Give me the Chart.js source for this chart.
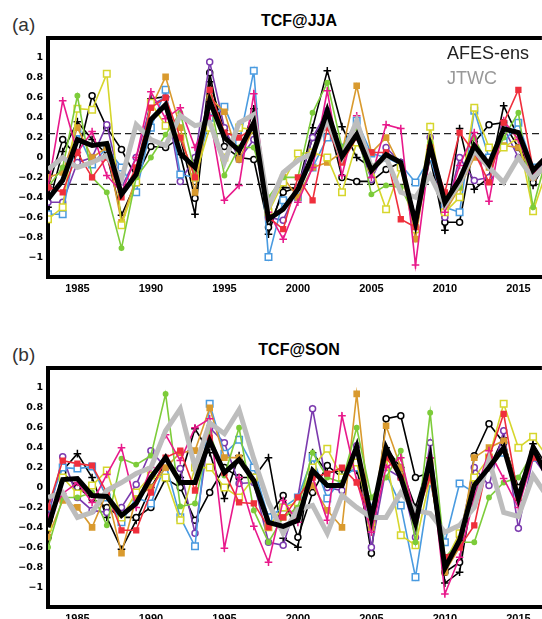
<!DOCTYPE html>
<html>
<head>
<meta charset="utf-8">
<script src="https://cdn.jsdelivr.net/npm/chart.js@4.4.0/dist/chart.umd.min.js"></script>
<style>
body { margin:0; width:542px; height:619px; overflow:hidden; background:#fff; position:relative; font-family:"Liberation Sans", Arial, sans-serif; }
.panel { position:absolute; left:0; width:542px; height:301px; overflow:hidden; }
.tag { position:absolute; left:12px; font-size:19px; line-height:1; color:#333; }
.ttl { position:absolute; left:200px; width:198px; text-align:center; font-size:16px; font-weight:bold; line-height:1; color:#000; }
.leg { position:absolute; left:447px; font-size:18px; line-height:1; }
</style>
</head>
<body>
<div class="tag" style="top:15px">(a)</div>
<div class="ttl" style="top:13px">TCF@JJA</div>
<div class="panel" style="top:0"><canvas id="jja" width="548" height="301"></canvas></div>
<div class="leg" style="top:44px;color:#222">AFES-ens</div>
<div class="leg" style="top:69px;color:#999">JTWC</div>

<div class="tag" style="top:345px">(b)</div>
<div class="ttl" style="top:342px">TCF@SON</div>
<div class="panel" style="top:330px"><canvas id="son" width="548" height="301"></canvas></div>

<script>
//Data
let years = [1983,1984,1985,1986,1987,1988,1989,1990,1991,1992,1993,1994,1995,1996,1997,1998,1999,2000,
             2001,2002,2003,2004,2005,2006,2007,2008,2009,2010,2011,2012,2013,2014,2015,2016,2017];
let xTicks = [1985, 1990, 1995, 2000, 2005, 2010, 2015];
let yTicks = [-1, -0.8, -0.6, -0.4, -0.2, 0, 0.2, 0.4, 0.6, 0.8, 1];
let jjaLevels = [0.24, -0.27];

// JJA
let jjaMean = [-0.42,-0.23,0.18,0.12,0.14,-0.37,-0.17,0.38,0.53,0.04,-0.10,0.57,0.20,0.07,0.35,-0.62,-0.52,-0.32,
               0.02,0.47,0.01,0.23,-0.13,0.03,-0.05,-0.66,0.12,-0.45,-0.22,0.12,-0.07,0.29,0.25,-0.13,0.02];
let jjaJtwc = [-0.12,0.0,-0.10,-0.05,0.02,-0.22,0.33,0.18,0.12,0.42,0.32,0.35,-0.05,0.35,0.43,-0.50,-0.15,-0.03,
               0.04,0.38,0.0,0.37,-0.10,0.0,-0.35,-0.40,-0.18,-0.48,-0.26,0.07,-0.10,-0.25,0.0,-0.21,-0.05];
let jjaRed    = [-0.30,-0.35,0.05,-0.20,0.0,-0.40,-0.10,0.50,0.60,0.20,-0.20,0.68,0.25,0.20,0.30,-0.60,-0.72,-0.20,
                 -0.43,0.30,-0.05,0.20,0.05,0.05,-0.62,-0.70,0.10,-0.35,0.25,0.05,-0.25,0.35,0.68,-0.12,0.0];
let jjaPink   = [-0.30,0.57,0.05,0.26,-0.18,-0.35,0.0,0.66,0.39,0.50,0.10,0.42,-0.43,-0.28,0.64,-0.55,-0.82,-0.45,
                 -0.10,0.67,-0.18,0.42,-0.20,0.33,0.29,-1.08,0.08,-0.55,-0.08,0.25,-0.44,0.37,0.18,-0.18,0.05];
let jjaGreen  = [-0.30,-0.10,0.62,-0.20,-0.35,-0.91,-0.20,0.0,0.23,0.45,-0.15,0.60,-0.18,0.10,0.10,-0.40,-0.20,-0.20,
                 0.45,0.75,0.10,0.30,-0.37,-0.28,-0.30,-0.60,0.15,-0.40,-0.30,0.20,-0.10,0.20,0.45,-0.50,0.05];
let jjaYellow = [-0.62,-0.50,0.49,0.48,0.84,-0.68,-0.25,0.55,0.32,0.20,-0.20,0.30,0.0,0.30,0.28,-0.55,-0.25,0.04,
                 0.05,0.0,-0.35,0.15,-0.10,-0.52,-0.10,-0.72,0.31,-0.55,-0.40,0.50,0.10,0.10,0.20,-0.54,-0.10];
let jjaOrange = [-0.20,-0.15,0.30,0.0,0.10,-0.65,-0.20,0.50,0.81,0.30,-0.35,0.60,0.46,-0.02,0.30,-0.50,-0.20,-0.40,
                 -0.10,-0.05,0.05,0.72,0.05,0.20,-0.10,-0.82,0.10,-0.55,-0.30,0.0,-0.10,0.12,0.10,-0.20,-0.05];
let jjaBlue   = [-0.57,-0.57,0.25,-0.07,0.10,-0.10,-0.35,0.30,0.68,-0.17,-0.20,0.40,0.51,0.15,0.87,-1.00,-0.43,-0.40,
                 -0.10,0.20,0.10,0.37,0.04,0.0,-0.07,-0.25,0.0,-0.50,-0.55,0.47,0.0,0.15,0.35,-0.10,0.0];
let jjaPurple = [-0.45,-0.45,-0.05,0.0,0.33,-0.30,0.0,0.53,0.60,-0.24,0.0,0.96,0.30,-0.02,0.18,-0.60,-0.63,-0.30,
                 0.20,0.47,0.05,0.20,-0.22,0.10,-0.05,-0.60,0.20,-0.60,0.0,-0.23,-0.20,0.30,0.0,-0.20,0.0];
let jjaBlackO = [-0.30,0.18,0.0,0.62,0.30,0.08,-0.20,0.11,0.10,0.20,-0.41,0.85,0.11,0.0,-0.02,-0.70,-0.35,-0.30,
                 0.20,0.40,-0.20,-0.24,-0.24,-0.12,-0.05,-0.60,0.04,-0.65,-0.65,0.15,0.33,0.35,0.10,-0.25,-0.05];
let jjaBlackP = [-0.50,0.06,0.36,0.18,0.03,-0.58,-0.25,0.59,0.61,0.03,-0.57,0.76,0.27,0.02,0.49,-0.77,-0.30,-0.31,
                 0.30,0.87,0.31,0.0,-0.10,0.0,-0.05,-0.70,0.0,-0.73,0.29,-0.32,-0.20,0.52,0.20,-0.28,0.0];

// SON
let sonMean = [-0.40,0.08,0.09,-0.08,-0.09,-0.28,-0.16,0.10,0.30,0.05,0.05,0.47,0.15,0.28,0.07,-0.35,-0.39,-0.33,
               0.17,0.02,0.02,0.41,-0.31,0.40,0.10,-0.36,0.29,-0.81,-0.53,0.02,0.20,0.40,-0.11,0.40,0.10];
let sonJtwc = [-0.10,-0.05,-0.30,-0.25,-0.03,0.05,0.14,0.20,0.57,0.79,0.20,0.65,0.54,0.78,0.29,-0.15,-0.46,-0.22,
               -0.18,-0.46,-0.08,-0.20,-0.30,-0.30,-0.05,-0.23,-0.26,-0.45,-0.38,-0.20,0.28,-0.25,-0.29,0.12,-0.10];
let sonRed    = [-0.20,0.27,0.24,0.22,-0.05,-0.43,-0.43,-0.05,0.30,0.37,-0.03,0.50,0.15,-0.15,-0.16,-0.40,-0.30,-0.10,
                 0.10,0.14,0.20,0.05,-0.30,0.30,0.10,-0.30,0.10,-0.70,-0.60,-0.38,0.30,0.74,-0.10,0.30,0.20];
let sonPink   = [-0.30,-0.06,0.05,-0.15,0.13,0.40,-0.20,0.20,0.53,0.27,0.60,0.69,-0.61,0.10,-0.39,-0.75,-0.13,-0.35,
                 0.10,-0.33,0.72,0.07,-0.45,0.20,0.30,-0.30,0.30,-1.07,-0.70,-0.10,0.37,0.09,-0.20,0.30,0.20];
let sonGreen  = [-0.60,-0.10,-0.10,-0.05,-0.38,0.29,0.23,0.32,0.94,-0.19,-0.16,0.55,0.12,0.60,-0.23,-0.55,-0.30,-0.20,
                 0.35,0.10,0.05,0.60,-0.10,0.10,0.37,-0.55,0.75,-0.70,-0.55,-0.55,-0.10,0.05,0.10,0.35,0.10];
let sonYellow = [-0.40,0.10,-0.06,0.02,0.17,-0.30,-0.05,0.12,0.10,-0.33,0.20,0.20,0.0,-0.10,0.10,-0.40,-0.20,-0.15,
                 0.20,0.39,0.10,0.25,-0.35,0.30,-0.48,-0.58,0.10,-0.75,-0.46,0.10,0.30,0.84,0.40,0.51,0.30];
let sonOrange = [-0.50,-0.13,-0.20,-0.40,-0.05,-0.66,-0.10,0.0,0.20,0.35,0.37,0.80,0.30,0.30,0.10,-0.40,-0.30,-0.20,
                 0.02,-0.23,-0.40,0.94,-0.40,0.62,0.20,-0.30,0.25,-0.85,-0.60,0.30,0.40,0.47,-0.05,0.35,0.15];
let sonBlue   = [-0.20,0.20,0.19,0.21,-0.10,-0.35,-0.10,-0.16,0.24,-0.30,-0.59,0.84,0.34,0.48,0.20,-0.30,-0.20,-0.10,
                 0.30,-0.11,0.10,0.20,-0.20,0.14,-0.18,-0.90,0.05,-0.55,0.04,-0.05,0.25,0.35,-0.05,0.30,0.20];
let sonPurple = [-0.30,0.31,-0.10,-0.23,-0.25,-0.20,0.03,0.37,0.20,0.19,-0.46,0.60,0.45,0.04,0.05,-0.55,-0.58,-0.10,
                 0.79,0.0,-0.03,0.42,-0.60,0.19,0.10,-0.50,0.45,-0.80,-0.50,0.20,0.02,0.57,-0.41,0.30,0.10];
let sonBlackO = [-0.50,0.15,0.0,-0.11,-0.20,-0.30,-0.30,-0.20,0.09,0.0,-0.33,-0.05,0.20,0.10,0.10,-0.30,-0.08,-0.50,
                 -0.05,0.22,0.10,0.25,-0.66,0.69,0.72,0.10,0.15,-0.85,-0.75,0.32,0.64,0.45,0.0,0.35,0.10];
let sonBlackP = [-0.50,0.17,0.34,0.10,-0.30,-0.62,-0.33,0.0,0.25,0.10,0.59,0.35,-0.11,0.32,0.10,0.30,-0.51,-0.60,
                 0.35,0.15,0.17,0.17,-0.30,0.40,0.20,-0.20,0.30,-0.96,-0.85,0.05,0.20,0.50,-0.13,0.44,0.20];

//Styles for the ensemble members (same order in both panels)
let memberStyles = [
  {color:'#ef2f3c', shape:'rect',   r:3.4, fill:true},
  {color:'#e8198b', shape:'cross',  r:3.8, fill:false},
  {color:'#7dcc3a', shape:'circle', r:2.2, fill:true},
  {color:'#d6d62c', shape:'rect',   r:4.6, fill:false},
  {color:'#d99a2e', shape:'rect',   r:3.6, fill:true},
  {color:'#4a9be0', shape:'rect',   r:4.6, fill:false},
  {color:'#7b3aae', shape:'circle', r:3.0, fill:false},
  {color:'#000000', shape:'circle', r:3.0, fill:false},
  {color:'#000000', shape:'cross',  r:3.8, fill:false}
];

let pts = (vals) => years.map((yr, i) => ({x: yr, y: vals[i]}));

// thick frame line along the top of the plot
let topBorder = {
  id: 'topBorder',
  afterDraw(chart) {
    let a = chart.chartArea, ctx = chart.ctx;
    ctx.save();
    ctx.strokeStyle = '#000';
    ctx.lineWidth = 4;
    ctx.beginPath();
    ctx.moveTo(a.left - 2, a.top);
    ctx.lineTo(a.right, a.top);
    ctx.stroke();
    ctx.restore();
  }
};

function drawPanel(id, members, mean, obs, levels) {
  let datasets = [];
  datasets.push({data: pts(mean), borderColor:'#000', borderWidth:5, pointRadius:0});
  datasets.push({data: pts(obs), borderColor:'#bdbdbd', borderWidth:5, pointRadius:0});
  members.forEach((vals, k) => {
    let st = memberStyles[k];
    datasets.push({
      data: pts(vals),
      borderColor: st.color,
      borderWidth: 1.6,
      pointStyle: st.shape,
      pointRadius: st.r,
      pointBorderWidth: 1.5,
      pointBorderColor: st.color,
      pointBackgroundColor: st.fill ? st.color : '#fff'
    });
  });
  levels.forEach(v => {
    datasets.push({
      data: [{x: years[0], y: v}, {x: years[years.length - 1], y: v}],
      borderColor:'#222', borderWidth:1.4, borderDash:[7,4], pointRadius:0
    });
  });

  new Chart(document.getElementById(id), {
    type: 'line',
    data: { datasets: datasets },
    plugins: [topBorder],
    options: {
      responsive: false,
      animation: false,
      devicePixelRatio: 1,
      layout: { padding: {top: 38, right: 0, bottom: 0, left: 0} },
      elements: { line: { tension: 0 } },
      plugins: { legend: {display:false}, tooltip: {enabled:false} },
      scales: {
        x: {
          type: 'linear', min: 1983, max: 2016.6,
          afterBuildTicks: (axis) => { axis.ticks = xTicks.map(v => ({value: v})); },
          afterFit: (axis) => { axis.height = 24; },
          grid: { drawOnChartArea:false, drawTicks:false },
          border: { color:'#000', width:4 },
          ticks: { padding: 5, color:'#000', maxRotation:0, autoSkip:false,
                   font: {family:'"Liberation Sans", Arial', size:11, weight:'bold'},
                   callback: (v) => String(v) }
        },
        y: {
          min: -1.2, max: 1.2,
          afterBuildTicks: (axis) => { axis.ticks = yTicks.map(v => ({value: v})); },
          afterFit: (axis) => { axis.width = 48; },
          grid: { drawOnChartArea:false, drawTicks:false },
          border: { color:'#000', width:4 },
          ticks: { padding: 5, color:'#000', autoSkip:false,
                   font: {family:'"DejaVu Sans"', size:9.5, weight:'bold'},
                   callback: (v) => {
                     let s = Math.abs(v) < 1e-9 ? '0' : String(Math.round(v * 10) / 10);
                     return s.replace('-', '\u2212');
                   } }
        }
      }
    }
  });
}

drawPanel('jja', [jjaRed, jjaPink, jjaGreen, jjaYellow, jjaOrange, jjaBlue, jjaPurple, jjaBlackO, jjaBlackP],
          jjaMean, jjaJtwc, jjaLevels);
drawPanel('son', [sonRed, sonPink, sonGreen, sonYellow, sonOrange, sonBlue, sonPurple, sonBlackO, sonBlackP],
          sonMean, sonJtwc, []);
</script>
</body>
</html>
